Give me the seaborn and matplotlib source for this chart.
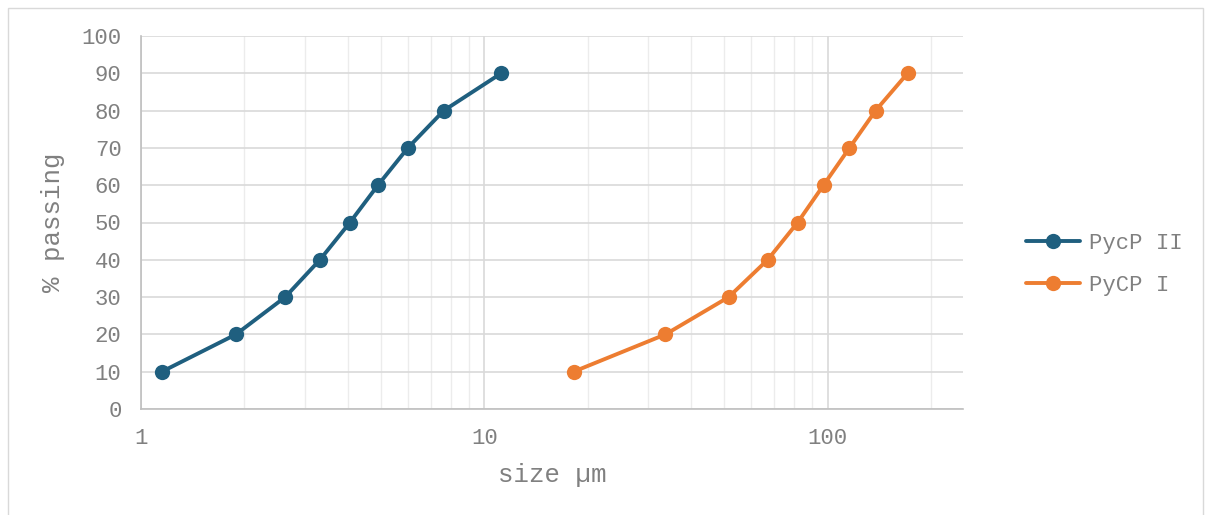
import numpy as np
import pandas as pd
import matplotlib
matplotlib.use("Agg")
import matplotlib.pyplot as plt
import seaborn as sns
from matplotlib.ticker import FixedLocator, NullFormatter, FixedFormatter

# Data
pct_passing = [10, 20, 30, 40, 50, 60, 70, 80, 90]
size_pycp_ii = [1.15, 1.89, 2.63, 3.32, 4.06, 4.90, 5.99, 7.62, 11.2]
size_pycp_i = [18.2, 33.7, 51.5, 66.9, 81.8, 97.3, 115.8, 138.0, 171.0]
series_names = ["PycP II", "PyCP I"]
x_tick_labels = ["1", "10", "100"]

df = pd.concat([
    pd.DataFrame({"size": size_pycp_ii, "passing": pct_passing, "series": series_names[0]}),
    pd.DataFrame({"size": size_pycp_i, "passing": pct_passing, "series": series_names[1]}),
])

sns.set_theme(style="white")
plt.rcParams["font.family"] = ["Liberation Mono", "DejaVu Sans Mono"]
text_color = "#808080"

fig = plt.figure(figsize=(12.06, 5.15), dpi=100)
ax = fig.add_axes([141/1206, 1-409/515, (963-141)/1206, (409-36)/515])

palette = {series_names[0]: "#1f5f7f", series_names[1]: "#ed7d31"}
sns.lineplot(data=df, x="size", y="passing", hue="series", palette=palette,
             marker="o", markersize=11, markeredgewidth=0, linewidth=2.8,
             sort=False, ax=ax, legend=True)

ax.set_xscale("log")
ax.set_xlim(1, 248)
ax.set_ylim(0, 100)
ax.set_yticks(range(0, 101, 10))
ax.xaxis.set_major_locator(FixedLocator([1, 10, 100]))
ax.xaxis.set_major_formatter(FixedFormatter(x_tick_labels))
minor = [m * d for d in (1, 10, 100) for m in range(2, 10) if m * d < 248]
ax.xaxis.set_minor_locator(FixedLocator(minor))
ax.xaxis.set_minor_formatter(NullFormatter())

ax.grid(True, which="major", axis="both", color="#d9d9d9", linewidth=1.2)
ax.grid(True, which="minor", axis="x", color="#ececec", linewidth=1.0)
ax.set_axisbelow(True)

for s in ["top", "right"]:
    ax.spines[s].set_visible(False)
for s in ["left", "bottom"]:
    ax.spines[s].set_color("#bfbfbf")
    ax.spines[s].set_linewidth(1.2)

ax.tick_params(axis="both", which="both", length=0, labelsize=16, colors=text_color, pad=14)
ax.set_xlabel("size µm", fontsize=18.5, color=text_color, labelpad=10)
ax.set_ylabel("% passing", fontsize=18.5, color=text_color, labelpad=12)

ax.get_legend().remove()
handles, labels = ax.get_legend_handles_labels()
fig.legend(handles, labels, loc="center left", bbox_to_anchor=(1006/1206, 1-264.5/515),
           frameon=False, fontsize=16, labelcolor=text_color, handlelength=2.45,
           handletextpad=0.4, labelspacing=0.95)

# outer chart border
fig.patches.append(plt.Rectangle((8/1206, -0.01), (1203-8)/1206, 1-8/515 + 0.01,
                                 transform=fig.transFigure, fill=False,
                                 edgecolor="#d9d9d9", linewidth=1.0))

fig.savefig("out.png", dpi=100)
